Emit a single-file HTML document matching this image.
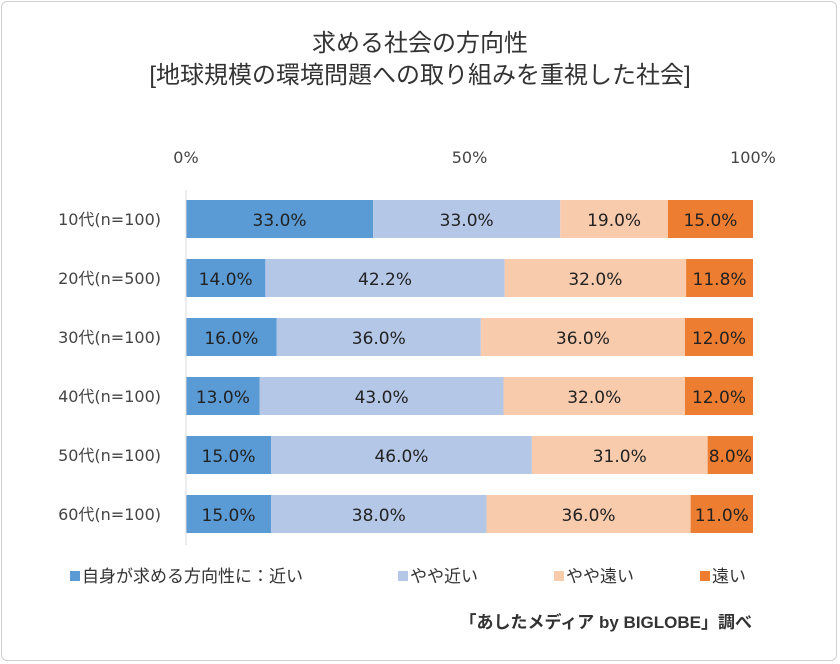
<!DOCTYPE html>
<html><head><meta charset="utf-8"><style>
body{margin:0;background:#fff;}
#wrap{position:relative;width:840px;height:664px;font-family:"Liberation Sans","Noto Sans CJK JP",sans-serif;}
#frame{position:absolute;left:1px;top:1px;width:836px;height:660px;border:1px solid #d0d0d0;border-radius:6px;box-sizing:border-box}
</style></head><body>
<div id="wrap">
<div id="frame"></div>
<svg id="chart" width="840" height="664" style="position:absolute;left:0;top:0">
<text x="420" y="51" text-anchor="middle" font-size="24" fill="#333">求める社会の方向性</text>
<text x="420" y="83" text-anchor="middle" font-size="24" fill="#333">[地球規模の環境問題への取り組みを重視した社会]</text>
<text x="752" y="628" text-anchor="end" font-size="17" font-weight="bold" fill="#333">「あしたメディア by BIGLOBE」調べ</text>
</svg>
</div>
<script>
const categories=["10代(n=100)","20代(n=500)","30代(n=100)","40代(n=100)","50代(n=100)","60代(n=100)"];
const seriesNames=["自身が求める方向性に：近い","やや近い","やや遠い","遠い"];
const near=[33,14,16,13,15,15];
const ratherNear=[33,42.2,36,43,46,38];
const ratherFar=[19,32,36,32,31,36];
const far=[15,11.8,12,12,8,11];
const ticks=[0,50,100];
const series=[near,ratherNear,ratherFar,far];
const colors=["#5b9bd5","#b4c7e7","#f8cbad","#ed7d31"];
const svg=document.getElementById('chart');
const NS="http://www.w3.org/2000/svg";
const NUMFONT='"DejaVu Sans","Noto Sans CJK JP",sans-serif';
const x0=186,x1=753;
const xs=v=>x0+(x1-x0)*v/100;
const yTop=i=>200+59*i;
const bh=38;
function mk(tag,attrs){const e=document.createElementNS(NS,tag);for(const k in attrs)e.setAttribute(k,attrs[k]);svg.appendChild(e);return e;}
ticks.forEach(t=>{
  const e=mk('text',{x:xs(t),y:163,'text-anchor':'middle','font-size':16,fill:'#444','font-family':NUMFONT});
  e.textContent=t+'%';
  
  
});
categories.forEach((c,i)=>{
  const e=mk('text',{x:161,y:yTop(i)+bh/2+6,'text-anchor':'end','font-size':16,fill:'#444','font-family':NUMFONT});
  e.textContent=c;
  
  
  let acc=0;
  series.forEach((s,j)=>{
    const v=s[i];
    const r=mk('rect',{x:xs(acc),y:yTop(i),width:xs(acc+v)-xs(acc),height:bh,fill:colors[j]});
    
    
    const t=mk('text',{x:(xs(acc)+xs(acc+v))/2,y:yTop(i)+bh/2+7,'text-anchor':'middle','font-size':17,fill:'#222','font-family':NUMFONT});
    t.textContent=v.toFixed(1)+'%';
    
    
    acc+=v;
  });
});
const ax=mk('line',{x1:x0,x2:x0,y1:190,y2:545,stroke:'#d9d9d9','stroke-width':1});


const lx=[70,398,554,700];
seriesNames.forEach((n,j)=>{
  const r=mk('rect',{x:lx[j],y:571,width:10,height:10,fill:colors[j]});
  
  
  const t=mk('text',{x:lx[j]+12,y:582,'font-size':17,fill:'#333'});
  t.textContent=n;
  
  
});
</script>
</body></html>
